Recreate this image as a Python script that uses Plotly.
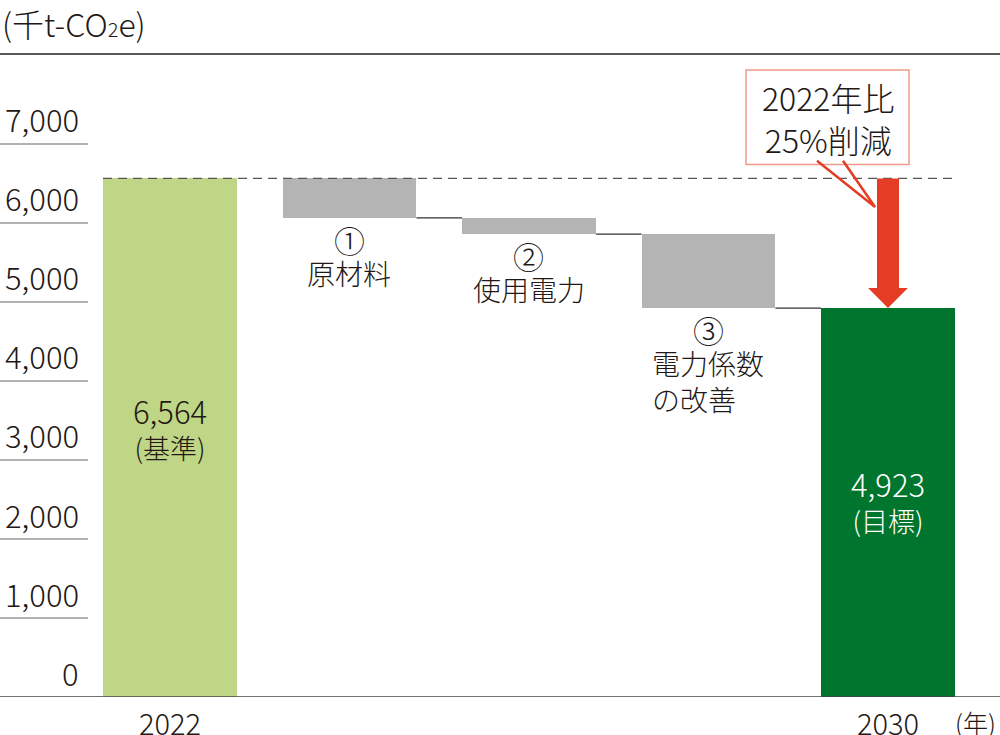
import plotly.graph_objects as go

# ---- data ----
categories = ["2022", "原材料", "使用電力", "電力係数の改善", "2030"]
base_2022 = 6564
reductions = [500, 206, 935]
target_2030 = 4923
y_ticks = [0, 1000, 2000, 3000, 4000, 5000, 6000, 7000]
y_tick_labels = ["0", "1,000", "2,000", "3,000", "4,000", "5,000", "6,000", "7,000"]
x_labels = ["2022", "2030"]
step_numbers = ["①", "②", "③"]
step_names = ["原材料", "使用電力", "電力係数<br>の改善"]
base_label = "<span style='font-size:31px'>6,564</span><br>(基準)"
target_label = "<span style='font-size:31px'>4,923</span><br>(目標)"
unit_y = "(千t-CO<span style='font-size:20px'>2</span>e)"
unit_x = "(年)"
callout_text = "2022年比<br>25%削減"

FONT = "Noto Sans CJK JP, Noto Sans, sans-serif"
TXT = "#231815"
LIGHT_GREEN = "#bfd687"
DARK_GREEN = "#00752e"
GRAY = "#b4b4b4"
RED = "#e53d25"
W = 0.746
WT = 300


def f(size, color=TXT):
    return dict(size=size, color=color, family=FONT, weight=WT)


# running levels
levels = [base_2022]
for r in reductions:
    levels.append(levels[-1] - r)

xs = list(range(len(categories)))
heights = [base_2022] + reductions + [target_2030]
bases = [0] + levels[1:] + [0]
colors = [LIGHT_GREEN, GRAY, GRAY, GRAY, DARK_GREEN]

fig = go.Figure()
fig.add_trace(go.Bar(x=xs, y=heights, base=bases, width=W,
                     marker=dict(color=colors, line=dict(width=0)),
                     hoverinfo="skip", showlegend=False))

# connectors
cx, cy = [], []
for i in range(1, len(levels)):
    cx += [i + W / 2, i + 1 - W / 2, None]
    cy += [levels[i], levels[i], None]
fig.add_trace(go.Scatter(x=cx, y=cy, mode="lines", line=dict(color="#333333", width=1.2),
                         hoverinfo="skip", showlegend=False))

# dashed baseline level
fig.add_trace(go.Scatter(x=[0 - W / 2, 4 + W / 2], y=[base_2022, base_2022], mode="lines",
                         line=dict(color="#555555", width=1.2, dash="9px,6px"),
                         hoverinfo="skip", showlegend=False))

# red arrow (from 2022 level down to 2030 target)
sh, hh, hl = 0.0613, 0.111, 253
ax_c = 4
arrow_x = [ax_c - sh, ax_c + sh, ax_c + sh, ax_c + hh, ax_c, ax_c - hh, ax_c - sh, ax_c - sh]
arrow_y = [base_2022, base_2022, target_2030 + hl, target_2030 + hl, target_2030,
           target_2030 + hl, target_2030 + hl, base_2022]
fig.add_trace(go.Scatter(x=arrow_x, y=arrow_y, mode="lines", fill="toself",
                         fillcolor=RED, line=dict(color=RED, width=0),
                         hoverinfo="skip", showlegend=False))

shapes = []
# top rule and bottom axis
shapes.append(dict(type="line", xref="paper", yref="paper", x0=0, x1=1, y0=1, y1=1,
                   line=dict(color="#222222", width=1.5)))
shapes.append(dict(type="line", xref="paper", yref="y", x0=0, x1=1, y0=0, y1=0,
                   line=dict(color="#444444", width=1.5)))
# tick rules
for v in y_ticks[1:]:
    shapes.append(dict(type="line", xref="paper", yref="y", x0=0, x1=0.088, y0=v, y1=v,
                       line=dict(color="#999999", width=1.5)))
# callout box
shapes.append(dict(type="rect", xref="paper", yref="paper", x0=0.746, x1=0.909,
                   y0=0.828, y1=0.975, fillcolor="white",
                   line=dict(color="#f29a8a", width=1.5), layer="above"))
# callout pointer
shapes.append(dict(type="path", xref="paper", yref="paper",
                   path="M 0.817,0.834 L 0.875,0.762 L 0.843,0.834",
                   line=dict(color=RED, width=2.5), layer="above"))

ann = []
for v, t in zip(y_ticks, y_tick_labels):
    ann.append(dict(x=0.081, xref="paper", y=v, yref="y", text=t, showarrow=False,
                    xanchor="right", yanchor="middle", yshift=25, font=f(31)))
ann.append(dict(x=0, xref="paper", y=1, yref="paper", text=unit_y, showarrow=False,
                xanchor="left", yanchor="middle", yshift=31, font=f(32)))
for xi, t in zip([0, 4], x_labels):
    ann.append(dict(x=xi, xref="x", y=0, yref="paper", text=t, showarrow=False,
                    xanchor="center", yanchor="middle", yshift=-25, font=f(29)))
ann.append(dict(x=0.998, xref="paper", y=0, yref="paper", text=unit_x, showarrow=False,
                xanchor="right", yanchor="middle", yshift=-25, font=f(25)))
ann.append(dict(x=0, xref="x", y=0.419, yref="paper", text=base_label, showarrow=False,
                xanchor="center", yanchor="middle", font=f(27)))
ann.append(dict(x=4, xref="x", y=0.306, yref="paper", text=target_label, showarrow=False,
                xanchor="center", yanchor="middle", font=f(27, "white")))
for i, (n, name) in enumerate(zip(step_numbers, step_names)):
    ann.append(dict(x=i + 1, xref="x", y=levels[i + 1], yref="y", text=n, showarrow=False,
                    xanchor="center", yanchor="top", yshift=3, font=f(31)))
    ann.append(dict(x=i + 1, xref="x", y=levels[i + 1], yref="y", text=name, showarrow=False,
                    xanchor="center", yanchor="top", yshift=-33, align="left", font=f(28)))
ann.append(dict(x=0.8275, xref="paper", y=0.900, yref="paper", text=callout_text,
                showarrow=False, xanchor="center", yanchor="middle", font=f(32)))

fig.update_layout(
    width=1000, height=735,
    margin=dict(l=0, r=0, t=54, b=38),
    paper_bgcolor="white", plot_bgcolor="white",
    xaxis=dict(range=[-0.947, 4.624], visible=False, fixedrange=True),
    yaxis=dict(range=[0, 8139], visible=False, fixedrange=True),
    shapes=shapes, annotations=ann, bargap=0, showlegend=False,
)

fig.write_html("out.html", config={"displayModeBar": False},
               post_script="document.body.style.margin='0px';document.body.style.overflow='hidden';")
